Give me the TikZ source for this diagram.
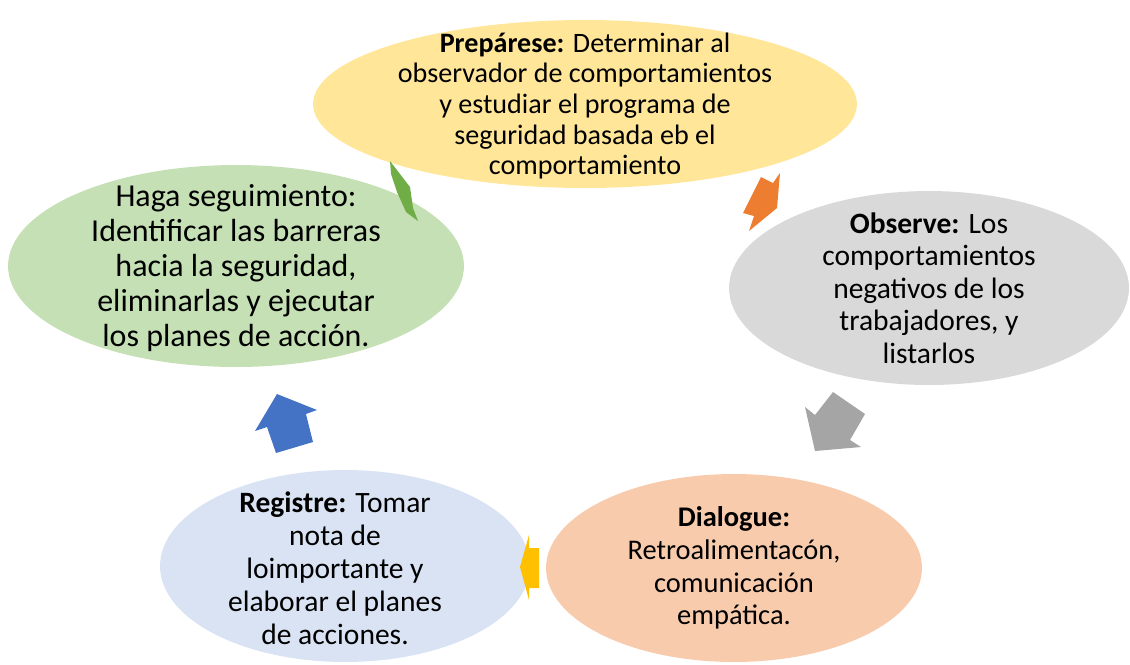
\documentclass[tikz,border=0pt]{standalone}
\usepackage{fontspec}
\setmainfont{Carlito}
\usetikzlibrary{shapes.geometric}
\definecolor{yelfill}{HTML}{FFE699}
\definecolor{grayfill}{HTML}{D9D9D9}
\definecolor{peachfill}{HTML}{F8CBAD}
\definecolor{bluefill}{HTML}{DAE3F3}
\definecolor{greenfill}{HTML}{C5E0B4}
\definecolor{greenarr}{HTML}{70AD47}
\definecolor{orangearr}{HTML}{ED7D31}
\definecolor{grayarr}{HTML}{A5A5A5}
\definecolor{yelarr}{HTML}{FFC000}
\definecolor{bluearr}{HTML}{4472C4}
\begin{document}
\begin{tikzpicture}
  [x=0.02cm,y=-0.02cm,every node/.style={inner sep=0pt,align=center}]
  \tikzstyle{stage} = [ellipse]
  \useasboundingbox (0,0) rectangle (1130,664);
  % stages of the cycle
  \node[stage,fill=yelfill,minimum width=10.88cm,minimum height=3.36cm] (prep) at (585,104) {};
  \node[stage,fill=grayfill,minimum width=8cm,minimum height=3.88cm] (obs) at (929,288) {};
  \node[stage,fill=peachfill,minimum width=7.52cm,minimum height=3.76cm] (dial) at (734,568) {};
  \node[stage,fill=bluefill,minimum width=7.4cm,minimum height=3.84cm] (reg) at (345,566) {};
  \node[stage,fill=greenfill,minimum width=9.12cm,minimum height=4.04cm] (seg) at (236,266) {};
  % texts
  \node[font=\fontsize{16}{17.4}\selectfont] at ([yshift=-0.04cm]prep)
    {\textbf{Prepárese:} Determinar al\\observador de comportamientos\\y estudiar el programa de\\seguridad basada eb el\\comportamiento};
  \node[font=\fontsize{16.8}{18.5}\selectfont] at (obs)
    {\textbf{Observe:} Los\\comportamientos\\negativos de los\\trabajadores, y\\listarlos};
  \node[font=\fontsize{16.2}{18.6}\selectfont] at (dial)
    {\textbf{Dialogue:}\\Retroalimentacón,\\comunicación\\empática.};
  \node[font=\fontsize{16.8}{18.8}\selectfont] at ([xshift=-0.2cm,yshift=-0.04cm]reg)
    {\textbf{Registre:} Tomar\\nota de\\loimportante y\\elaborar el planes\\de acciones.};
  \node[font=\fontsize{18.2}{19.9}\selectfont] at ([yshift=-0.04cm]seg)
    {Haga seguimiento:\\Identificar las barreras\\hacia la seguridad,\\eliminarlas y ejecutar\\los planes de acción.};
  % block arrows between the stages
  \fill[greenarr] (390,161) -- (410,187) -- (413,208) -- (418,221) -- (406,212) -- (397,192) -- (391,174) -- cycle;
  \fill[orangearr] (761,177) -- (773,183) -- (780,173) -- (777,208) -- (749,231) -- (754,216) -- (743,213) -- cycle;
  \fill[grayarr] (833,392) -- (865,414) -- (850,440) -- (861,447) -- (815,451) -- (805,407) -- (815,415) -- cycle;
  \fill[yelarr] (529,535) -- (529,548) -- (539,548) -- (539,588) -- (529,588) -- (529,600) -- (520,567) -- cycle;
  \fill[bluearr] (277,394) -- (317,410) -- (306,414) -- (313,442) -- (276,453) -- (267,427) -- (255,431) -- cycle;
\end{tikzpicture}
\end{document}
